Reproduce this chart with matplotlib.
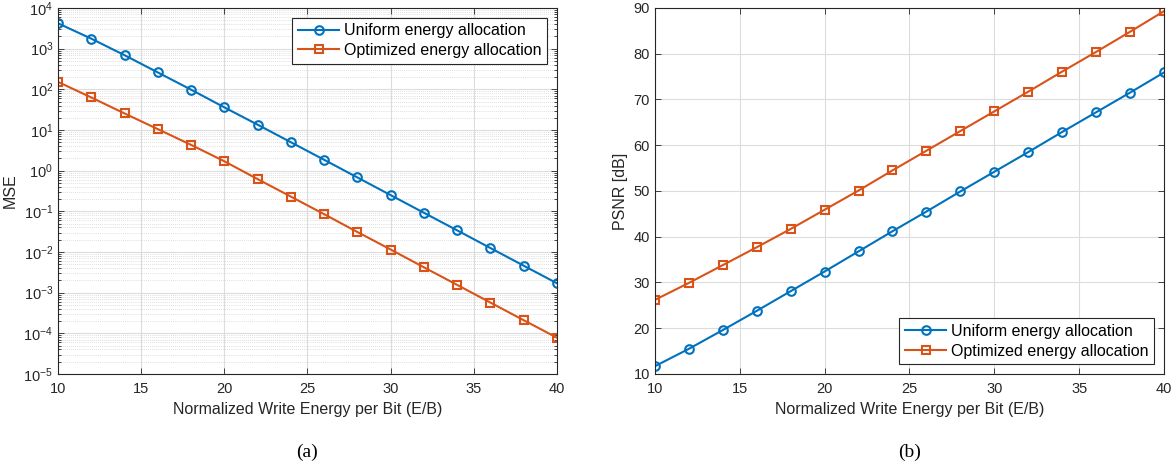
import numpy as np
import matplotlib.pyplot as plt
from matplotlib.ticker import LogLocator, NullFormatter

# data
energy = [10, 12, 14, 16, 18, 20, 22, 24, 26, 28, 30, 32, 34, 36, 38, 40]
mse_uniform = [4200, 1760, 690, 260, 98, 36, 13.5, 5.0, 1.85, 0.68, 0.25,
               0.092, 0.034, 0.0125, 0.0046, 0.0017]
mse_optimized = [152, 63, 25.5, 10.5, 4.3, 1.7, 0.62, 0.23, 0.085, 0.031,
                 0.0115, 0.0042, 0.00155, 0.00057, 0.00021, 0.000078]
psnr_uniform = [11.7, 15.5, 19.6, 23.8, 28.1, 32.4, 36.8, 41.2, 45.5, 49.9,
                54.2, 58.5, 62.9, 67.2, 71.5, 75.9]
psnr_optimized = [26.2, 29.9, 33.8, 37.7, 41.7, 45.9, 50.1, 54.5, 58.8, 63.1,
                  67.4, 71.7, 76.1, 80.4, 84.8, 89.3]
labels = ['Uniform energy allocation', 'Optimized energy allocation']
xticks = [10, 15, 20, 25, 30, 35, 40]

blue = '#0072BD'
orange = '#D95319'
txt = '#262626'

plt.rcParams['font.family'] = ['Liberation Sans', 'DejaVu Sans']

fig = plt.figure(figsize=(11.75, 4.7), dpi=100)
ax1 = fig.add_axes([0.0494, 0.2043, 0.4246, 0.7787])
ax2 = fig.add_axes([0.5574, 0.2043, 0.4332, 0.7787])


def style(ax):
    ax.set_xlim(10, 40)
    ax.set_xticks(xticks)
    ax.tick_params(which='both', direction='in', top=True, right=True,
                   colors=txt, labelsize=10.5, width=0.6)
    ax.tick_params(which='major', length=4)
    ax.tick_params(which='minor', length=2)
    ax.tick_params(axis='x', pad=6)
    for s in ax.spines.values():
        s.set_color(txt)
        s.set_linewidth(0.8)
    ax.grid(True, which='major', color='#dcdcdc', linewidth=0.8)
    ax.set_axisbelow(True)
    ax.set_xlabel('Normalized Write Energy per Bit (E/B)', fontsize=11.5, color=txt)


def legend(ax, loc):
    leg = ax.legend(loc=loc, fontsize=11.5, fancybox=False, edgecolor=txt,
                    framealpha=1, borderpad=0.35, handlelength=2.6, labelspacing=0.3,
                    handletextpad=0.3, borderaxespad=0.6)
    leg.get_frame().set_linewidth(0.8)
    for t in leg.get_texts():
        t.set_color('black')


# (a) MSE
ax1.semilogy(energy, mse_uniform, '-o', color=blue, lw=1.5, ms=6.2, mfc='none', mew=1.5, label=labels[0])
ax1.semilogy(energy, mse_optimized, '-s', color=orange, lw=1.5, ms=5.6, mfc='none', mew=1.5, label=labels[1])
ax1.set_ylim(1e-5, 1e4)
ax1.yaxis.set_major_locator(LogLocator(base=10, numticks=20))
ax1.yaxis.set_minor_locator(LogLocator(base=10, subs=np.arange(2, 10), numticks=20))
ax1.yaxis.set_minor_formatter(NullFormatter())
style(ax1)
ax1.grid(True, which='minor', axis='y', color='#d4d4d4', linewidth=0.6, linestyle=(0, (1, 1.5)))
ax1.set_ylabel('MSE', fontsize=11.5, color=txt)
legend(ax1, 'upper right')

# (b) PSNR
ax2.plot(energy, psnr_uniform, '-o', color=blue, lw=1.5, ms=6.2, mfc='none', mew=1.5, label=labels[0])
ax2.plot(energy, psnr_optimized, '-s', color=orange, lw=1.5, ms=5.6, mfc='none', mew=1.5, label=labels[1])
ax2.set_ylim(10, 90)
ax2.set_yticks(range(10, 91, 10))
style(ax2)
ax2.set_ylabel('PSNR [dB]', fontsize=11.5, color=txt)
legend(ax2, 'lower right')

fig.text(0.2615, 0.038, '(a)', ha='center', va='center', fontsize=14, family='Liberation Serif')
fig.text(0.7745, 0.038, '(b)', ha='center', va='center', fontsize=14, family='Liberation Serif')

fig.savefig('out.png', dpi=100)
